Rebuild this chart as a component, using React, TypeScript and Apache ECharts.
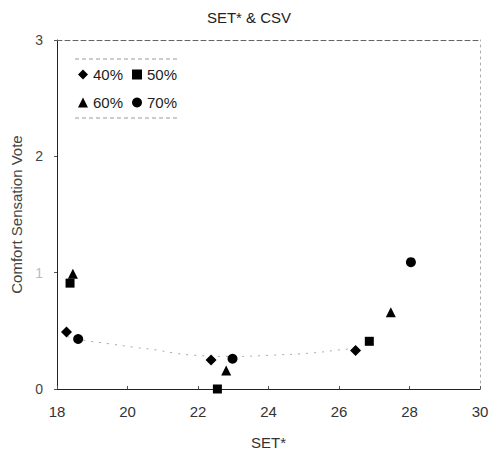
import React, { useEffect, useRef } from "react";
import * as echarts from "echarts";

const xTicks = [18, 20, 22, 24, 26, 28, 30];
const s40: number[][] = [[18.27, 0.49], [22.37, 0.25], [26.47, 0.33]];
const s50: number[][] = [[18.37, 0.91], [22.55, 0.0], [26.86, 0.41]];
const s60: number[][] = [[18.45, 0.99], [22.8, 0.16], [27.47, 0.66]];
const s70: number[][] = [[18.6, 0.43], [22.98, 0.26], [28.04, 1.09]];
const fitLine: number[][] = [
  [18.3, 0.45], [18.74, 0.42], [19.45, 0.39], [20.16, 0.36], [20.83, 0.335],
  [21.3, 0.31], [21.9, 0.29], [23.0, 0.28], [24.04, 0.29], [25.26, 0.31],
  [25.97, 0.335], [26.5, 0.35],
];

const FONT = "'Liberation Sans', Arial, sans-serif";
const INK = "#000";

export default function App() {
  const ref = useRef<HTMLDivElement>(null);
  useEffect(() => {
    if (!ref.current) return;
    const chart = echarts.init(ref.current, undefined, { renderer: "svg" });
    const scatter = (name: string, symbol: string, size: number, data: number[][]) => ({
      name,
      type: "scatter",
      symbol,
      symbolSize: size,
      data,
      itemStyle: { color: INK, opacity: 1 },
      z: 3,
    });
    const legendText = { fontSize: 15, color: "#222", fontFamily: FONT };
    chart.setOption({
      animation: false,
      backgroundColor: "#fff",
      textStyle: { fontFamily: FONT },
      title: {
        text: "SET* & CSV",
        left: "center",
        top: 5,
        textStyle: { fontSize: 15, fontWeight: "normal", color: "#222", fontFamily: FONT },
      },
      legend: [
        {
          data: ["40%", "50%"],
          left: 73,
          top: 62,
          itemWidth: 10,
          itemHeight: 10,
          itemGap: 9,
          textStyle: legendText,
        },
        {
          data: ["60%", "70%"],
          left: 73,
          top: 90,
          itemWidth: 10,
          itemHeight: 10,
          itemGap: 9,
          textStyle: legendText,
        },
      ],
      grid: { left: 57, right: 18, top: 40, bottom: 68 },
      xAxis: [
        {
          type: "value",
          min: xTicks[0],
          max: xTicks[xTicks.length - 1],
          interval: 2,
          name: "SET*",
          nameLocation: "middle",
          nameGap: 46,
          nameTextStyle: { fontSize: 15, color: "#333" },
          axisLine: { onZero: false, lineStyle: { color: "#222", width: 1 } },
          axisTick: { inside: true, length: 3, lineStyle: { color: "#555" } },
          axisLabel: { fontSize: 15, color: "#333", margin: 15 },
          splitLine: { show: false },
        },
        {
          type: "value",
          position: "top",
          min: 18,
          max: 30,
          interval: 2,
          axisLine: { show: true, onZero: false, lineStyle: { color: "#666", type: [5, 3], width: 1 } },
          axisTick: { show: false },
          axisLabel: { show: false },
          splitLine: { show: false },
        },
      ],
      yAxis: [
        {
          type: "value",
          min: 0,
          max: 3,
          interval: 1,
          name: "Comfort Sensation Vote",
          nameLocation: "middle",
          nameGap: 30,
          nameTextStyle: { fontSize: 15, color: "#444" },
          axisLine: { show: true, onZero: false, lineStyle: { color: "#222", width: 1 } },
          axisTick: { show: true, inside: false, length: 3, lineStyle: { color: "#555" } },
          axisLabel: {
            fontSize: 14,
            margin: 14,
            color: (v: any) => (Number(v) === 1 ? "#bbb" : "#444"),
          },
          splitLine: { show: false },
        },
        {
          type: "value",
          position: "right",
          min: 0,
          max: 3,
          interval: 1,
          axisLine: { show: true, onZero: false, lineStyle: { color: "#aaa", type: [2, 4], width: 1 } },
          axisTick: { show: false },
          axisLabel: { show: false },
          splitLine: { show: false },
        },
      ],
      graphic: [
        {
          type: "line",
          shape: { x1: 75, y1: 59, x2: 180, y2: 59 },
          style: { stroke: "#999", lineDash: [4, 3], lineWidth: 1 },
        },
        {
          type: "line",
          shape: { x1: 75, y1: 118, x2: 180, y2: 118 },
          style: { stroke: "#999", lineDash: [4, 3], lineWidth: 1 },
        },
      ],
      series: [
        {
          name: "fit",
          type: "line",
          data: fitLine,
          smooth: true,
          symbol: "none",
          lineStyle: { color: "#aaa", width: 1, type: [2, 6] },
          z: 1,
          silent: true,
        },
        scatter("40%", "diamond", 11, s40),
        scatter("50%", "rect", 9, s50),
        scatter("60%", "triangle", 10, s60),
        scatter("70%", "circle", 10, s70),
      ],
    });
    return () => chart.dispose();
  }, []);
  return (
    <div
      ref={ref}
      style={{ position: "fixed", left: 0, top: 0, width: 498, height: 457 }}
    />
  );
}
